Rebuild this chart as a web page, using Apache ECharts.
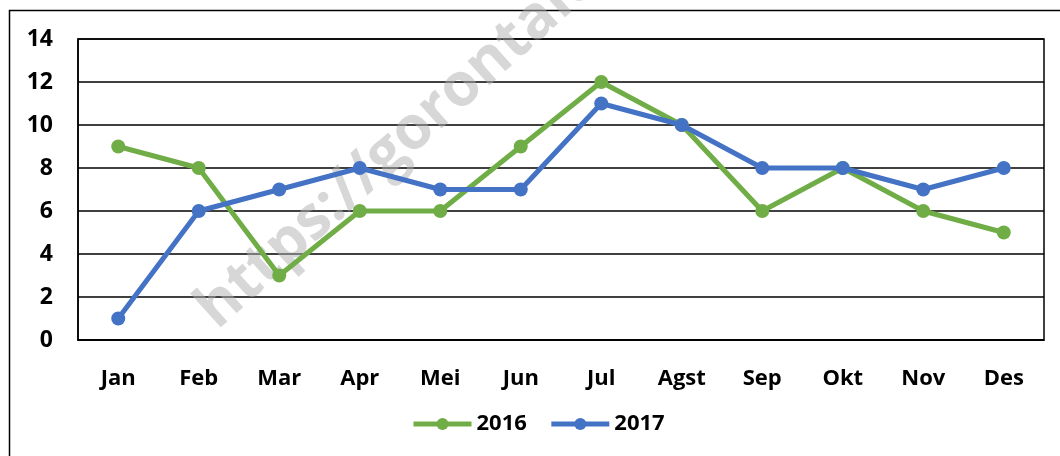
<!DOCTYPE html>
<html>
<head>
<meta charset="utf-8">
<script src="https://cdn.jsdelivr.net/npm/echarts@6/dist/echarts.min.js"></script>
<style>html,body{margin:0;padding:0;background:#fff;}#c{width:1060px;height:456px;}</style>
</head>
<body>
<div id="c"></div>
<script>
const categories = ['Jan','Feb','Mar','Apr','Mei','Jun','Jul','Agst','Sep','Okt','Nov','Des'];
const series2016 = [9,8,3,6,6,9,12,10,6,8,6,5];
const series2017 = [1,6,7,8,7,7,11,10,8,8,7,8];
const yTicks = [0,2,4,6,8,10,12,14];

const FONT = '"Open Sans", "Noto Sans", sans-serif';
const chart = echarts.init(document.getElementById('c'));
chart.setOption({
  animation: false,
  backgroundColor: '#fff',
  grid: {left: 78, top: 39, right: 16, bottom: 116, show: true, borderColor: '#000', borderWidth: 1.5},
  graphic: [
    {type: 'rect', shape: {x: 9.5, y: 10.5, width: 1080, height: 480}, style: {fill: null, stroke: '#000', lineWidth: 1.5}, z: -10, silent: true},
    {type: 'text', x: 226, y: 340, rotation: 42 * Math.PI / 180, z: 1, silent: true,
     style: {text: 'https://gorontalo.pikiran-rakyat.com', font: 'bold 60px ' + FONT, fill: 'rgba(175,175,175,0.5)', textVerticalAlign: 'bottom'}}
  ],
  legend: {
    data: ['2016','2017'], bottom: 16, left: 406, itemWidth: 58, itemHeight: 15, itemGap: 22,
    lineStyle: {width: 5},
    textStyle: {fontFamily: FONT, fontWeight: 'bold', fontSize: 22, color: '#000'}
  },
  xAxis: {
    type: 'category', data: categories, boundaryGap: true,
    axisLine: {show: true, lineStyle: {color: '#000', width: 1.5}},
    axisTick: {show: false},
    axisLabel: {margin: 28, fontFamily: FONT, fontWeight: 'bold', fontSize: 22, color: '#000'}
  },
  yAxis: {
    type: 'value', min: yTicks[0], max: yTicks[yTicks.length-1], interval: 2,
    axisLine: {show: true, lineStyle: {color: '#000', width: 1.5}},
    axisTick: {show: false},
    splitLine: {show: true, lineStyle: {color: '#000', width: 1.5}},
    axisLabel: {margin: 25, fontFamily: FONT, fontWeight: 'bold', fontSize: 23, color: '#000'}
  },
  series: [
    {name: '2016', type: 'line', data: series2016, color: '#70AD47', symbol: 'circle', symbolSize: 14,
     lineStyle: {width: 5, color: '#70AD47'}, itemStyle: {color: '#70AD47'}, z: 3},
    {name: '2017', type: 'line', data: series2017, color: '#4472C4', symbol: 'circle', symbolSize: 14,
     lineStyle: {width: 5, color: '#4472C4'}, itemStyle: {color: '#4472C4'}, z: 4}
  ]
});
</script>
</body>
</html>
